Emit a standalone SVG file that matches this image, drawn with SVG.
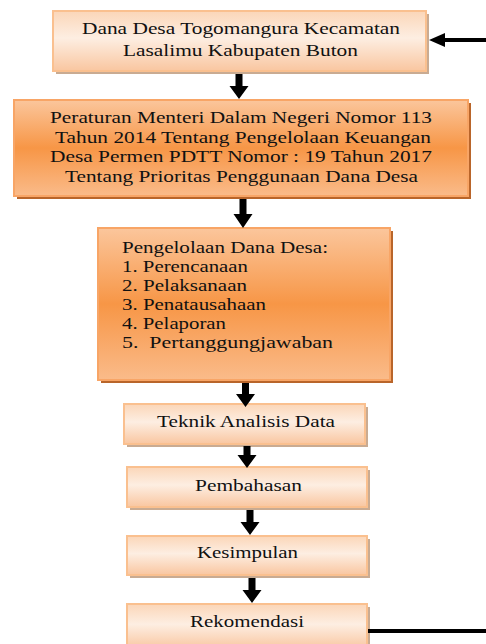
<svg xmlns="http://www.w3.org/2000/svg" width="486" height="644" viewBox="0 0 486 644">
<defs>
<linearGradient id="gLight" x1="0" y1="0" x2="0" y2="1">
<stop offset="0" stop-color="#fbd6b8"/>
<stop offset="0.45" stop-color="#fdeee2"/>
<stop offset="1" stop-color="#f9c6a0"/>
</linearGradient>
<linearGradient id="gDark" x1="0" y1="0" x2="0" y2="1">
<stop offset="0" stop-color="#fbc69c"/>
<stop offset="0.5" stop-color="#f79646"/>
<stop offset="1" stop-color="#fabb8a"/>
</linearGradient>
<style>
.light{fill:url(#gLight);stroke:#fac08f;stroke-width:2}
.dark{fill:url(#gDark);stroke:#f8a566;stroke-width:2}
.shL{fill:#c9ab92}
.shD{fill:#b9652a}
text{font-family:"Liberation Serif","Times New Roman",serif;font-size:17.5px;fill:#111}
.list{font-size:16.5px}
.arr{fill:#000}
</style>
</defs>
<rect width="486" height="644" fill="#fff"/>
<g id="node-dana-desa">
<rect class="shL" x="56" y="14" width="373" height="60"/>
<rect class="light" x="53" y="11" width="373" height="60"/>
<text x="82" y="34" textLength="318" lengthAdjust="spacingAndGlyphs">Dana Desa Togomangura Kecamatan</text>
<text x="123" y="56" textLength="235" lengthAdjust="spacingAndGlyphs">Lasalimu Kabupaten Buton</text>
</g>
<g id="node-peraturan">
<rect class="shD" x="17" y="103" width="454" height="96"/>
<rect class="dark" x="14" y="100" width="454" height="96"/>
<text x="50" y="123" textLength="382" lengthAdjust="spacingAndGlyphs">Peraturan Menteri Dalam Negeri Nomor 113</text>
<text x="55" y="143" textLength="376" lengthAdjust="spacingAndGlyphs">Tahun 2014 Tentang Pengelolaan Keuangan</text>
<text x="50" y="162" textLength="382" lengthAdjust="spacingAndGlyphs">Desa Permen PDTT Nomor : 19 Tahun 2017</text>
<text x="65" y="182" textLength="353" lengthAdjust="spacingAndGlyphs">Tentang Prioritas Penggunaan Dana Desa</text>
</g>
<g id="node-pengelolaan">
<rect class="shD" x="101" y="231" width="292" height="152"/>
<rect class="dark" x="98" y="228" width="292" height="152"/>
<text class="list" x="122" y="253" textLength="206" lengthAdjust="spacingAndGlyphs">Pengelolaan Dana Desa:</text>
<text class="list" x="122" y="272" textLength="126" lengthAdjust="spacingAndGlyphs">1. Perencanaan</text>
<text class="list" x="122" y="291" textLength="125" lengthAdjust="spacingAndGlyphs">2. Pelaksanaan</text>
<text class="list" x="122" y="310" textLength="144" lengthAdjust="spacingAndGlyphs">3. Penatausahaan</text>
<text class="list" x="122" y="329" textLength="104" lengthAdjust="spacingAndGlyphs">4. Pelaporan</text>
<text class="list" x="122" y="348" textLength="211" lengthAdjust="spacingAndGlyphs" xml:space="preserve">5.  Pertanggungjawaban</text>
</g>
<g id="node-teknik">
<rect class="shL" x="127" y="407" width="241" height="40"/>
<rect class="light" x="124" y="404" width="241" height="40"/>
<text x="157" y="427" textLength="178" lengthAdjust="spacingAndGlyphs">Teknik Analisis Data</text>
</g>
<g id="node-pembahasan">
<rect class="shL" x="130" y="470" width="240" height="40"/>
<rect class="light" x="127" y="467" width="240" height="40"/>
<text x="195" y="491" textLength="107" lengthAdjust="spacingAndGlyphs">Pembahasan</text>
</g>
<g id="node-kesimpulan">
<rect class="shL" x="130" y="539" width="240" height="39"/>
<rect class="light" x="127" y="536" width="240" height="39"/>
<text x="197" y="558" textLength="101" lengthAdjust="spacingAndGlyphs">Kesimpulan</text>
</g>
<g id="node-rekomendasi">
<rect class="shL" x="130" y="607" width="240" height="45"/>
<rect class="light" x="127" y="604" width="240" height="45"/>
<text x="190" y="627" textLength="114" lengthAdjust="spacingAndGlyphs">Rekomendasi</text>
</g>
<g id="connectors">
<polygon class="arr" points="235.5,74 242.5,74 242.5,86 248.5,86 239,99 229.5,86 235.5,86"/>
<polygon class="arr" points="239.5,199 246.5,199 246.5,214 252.5,214 243,228 233.5,214 239.5,214"/>
<polygon class="arr" points="242,383 249,383 249,394 255,394 245.5,407 236,394 242,394"/>
<polygon class="arr" points="243.5,446 250.5,446 250.5,455 256.5,455 247,468 237.5,455 243.5,455"/>
<polygon class="arr" points="246.5,510 253.5,510 253.5,522 259.5,522 250,535 240.5,522 246.5,522"/>
<polygon class="arr" points="248.5,578 255.5,578 255.5,590 261.5,590 252,603 242.5,590 248.5,590"/>
<polygon class="arr" points="486,38 445,38 445,33 429,40 445,47 445,42 486,42"/>
<rect class="arr" x="368" y="629" width="118" height="4"/>
</g>
</svg>
